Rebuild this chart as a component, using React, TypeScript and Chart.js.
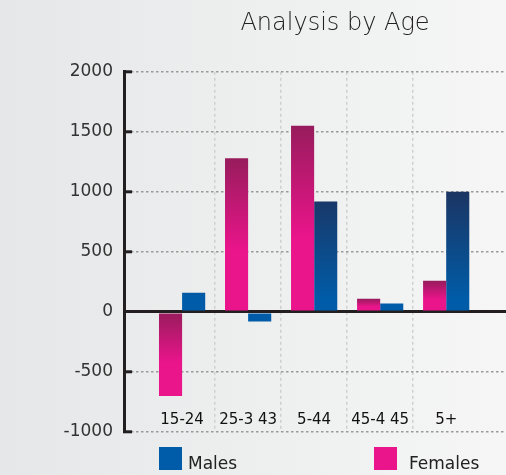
import React, { useEffect, useRef } from "react";
import { Chart, registerables } from "chart.js";

Chart.register(...registerables);

const categories = ["15-24", "25-3 43", "5-44", "45-4 45", "5+"];
const females = [-700, 1280, 1550, 110, 260];
const males = [160, -80, 920, 70, 1000];
const yTicks = [-1000, -500, 0, 500, 1000, 1500, 2000];
const gridBetween = [0.5, 1.5, 2.5, 3.5];

const PINK = "#ea148b";
const PINK_DARK = "#971c5c";
const BLUE = "#005ca8";
const NAVY = "#1b3563";
const FONT = "'DejaVu Sans', sans-serif";

export default function App() {
  const ref = useRef<HTMLCanvasElement | null>(null);

  useEffect(() => {
    if (!ref.current) return;

    const femaleColor = (c: any) => {
      const chart = c.chart;
      if (c.type !== "data" || !chart.chartArea) return PINK;
      const y = chart.scales.y;
      const y0 = y.getPixelForValue(0);
      const yv = y.getPixelForValue(c.parsed.y);
      const top = Math.min(y0, yv);
      const bottom = Math.max(y0, yv);
      if (bottom - top < 1) return PINK;
      const g = chart.ctx.createLinearGradient(0, top, 0, bottom);
      g.addColorStop(0, PINK_DARK);
      g.addColorStop(0.6, PINK);
      g.addColorStop(1, PINK);
      return g;
    };

    const maleColor = (c: any) => {
      const chart = c.chart;
      if (c.type !== "data" || !chart.chartArea) return BLUE;
      const y = chart.scales.y;
      const g = chart.ctx.createLinearGradient(0, y.getPixelForValue(1000), 0, y.getPixelForValue(100));
      g.addColorStop(0, NAVY);
      g.addColorStop(1, BLUE);
      return g;
    };

    const chart = new Chart(ref.current, {
      type: "bar",
      data: {
        datasets: [
          {
            label: "Females",
            data: females.map((v, i) => ({ x: i, y: v })),
            backgroundColor: femaleColor,
            borderWidth: 0,
            categoryPercentage: 0.7,
            barPercentage: 1,
          },
          {
            label: "Males",
            data: males.map((v, i) => ({ x: i, y: v })),
            backgroundColor: maleColor,
            borderWidth: 0,
            categoryPercentage: 0.7,
            barPercentage: 1,
          },
        ],
      },
      options: {
        animation: false,
        responsive: false,
        devicePixelRatio: 1,
        layout: { padding: 0 },
        plugins: {
          legend: { display: false },
          tooltip: { enabled: false },
          title: {
            display: true,
            text: "Analysis by Age",
            color: "#222",
            font: { family: FONT, size: 24, weight: "200" as any },
            padding: { top: 9, bottom: 34 },
          },
        },
        scales: {
          x: {
            type: "linear",
            position: "bottom",
            offset: false,
            min: -0.88,
            max: 7.39,
            afterBuildTicks: (s: any) => {
              s.ticks = categories.map((_, i) => ({ value: i }));
            },
            afterFit: (s: any) => {
              s.height = 43;
            },
            grid: { display: false, drawTicks: false },
            border: { display: false },
            ticks: {
              autoSkip: false,
              maxRotation: 0,
              mirror: true,
              padding: 3,
              color: "#111",
              font: { family: FONT, size: 15 },
              callback: (v: any) => categories[v as number] ?? "",
            },
          },
          xg: {
            type: "linear",
            position: "bottom",
            offset: false,
            min: -0.88,
            max: 7.39,
            afterBuildTicks: (s: any) => {
              s.ticks = gridBetween.map((v) => ({ value: v }));
            },
            afterFit: (s: any) => {
              s.height = 0;
            },
            grid: { display: true, offset: false, drawTicks: false, color: "#cfcfcf", lineWidth: 1.5 },
            border: { display: false, dash: [3, 3] },
            ticks: { display: false },
          },
          y: {
            type: "linear",
            position: "left",
            min: -1000,
            max: 2000,
            z: 1,
            afterBuildTicks: (s: any) => {
              s.ticks = yTicks.map((v) => ({ value: v }));
            },
            afterFit: (s: any) => {
              s.width = 124;
            },
            border: {
              display: true,
              color: "#231f20",
              width: 3,
              dash: (c: any) => (c.tick && c.tick.value === 0 ? [] : [2.5, 2.5]),
            } as any,
            grid: {
              color: (c: any) => (c.tick && c.tick.value === 0 ? "#231f20" : "#9a9a9a"),
              lineWidth: (c: any) => (c.tick && c.tick.value === 0 ? 3 : 1.6),
              tickLength: -8,
              tickColor: "#231f20",
              tickWidth: 3,
              tickBorderDash: [],
            } as any,
            ticks: {
              padding: 19,
              color: "#333",
              font: { family: FONT, size: 17 },
              callback: (v: any) => String(v),
            },
          },
        },
      },
    });

    return () => chart.destroy();
  }, []);

  return (
    <div
      style={{
        position: "absolute",
        left: 0,
        top: 0,
        width: 506,
        height: 475,
        overflow: "hidden",
        background: "linear-gradient(90deg, #e6e7e8 0%, #eeefef 55%, #f6f6f6 100%)",
        fontFamily: FONT,
      }}
    >
      <canvas ref={ref} width={670} height={475} style={{ position: "absolute", left: 0, top: 0 }} />
      <div style={{ position: "absolute", left: 159, top: 447, width: 23, height: 23, background: BLUE }} />
      <div style={{ position: "absolute", left: 188, top: 455, fontSize: 17, lineHeight: "17px", color: "#222" }}>
        Males
      </div>
      <div style={{ position: "absolute", left: 374, top: 447, width: 23, height: 23, background: PINK }} />
      <div style={{ position: "absolute", left: 409, top: 455, fontSize: 17, lineHeight: "17px", color: "#222" }}>
        Females
      </div>
    </div>
  );
}
